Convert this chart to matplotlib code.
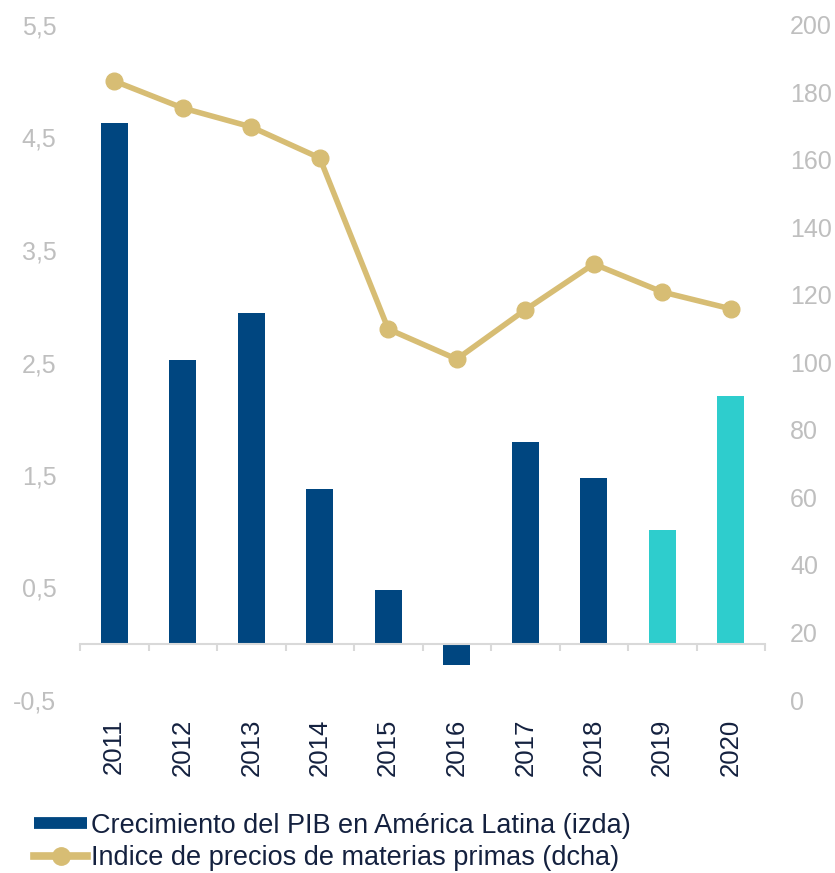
"""GDP growth in Latin America vs. commodity price index, 2011-2020."""
import matplotlib
matplotlib.use("Agg")
import matplotlib.pyplot as plt
from matplotlib.lines import Line2D
from matplotlib.ticker import FuncFormatter

plt.rcParams["font.family"] = ["Liberation Sans", "DejaVu Sans"]

years = ["2011", "2012", "2013", "2014", "2015", "2016", "2017", "2018", "2019", "2020"]
gdp_growth = [4.63, 2.52, 2.94, 1.38, 0.48, -0.19, 1.79, 1.47, 1.01, 2.20]
commodity_idx = [183.4, 175.4, 169.8, 160.6, 109.9, 101.0, 115.6, 129.2, 120.9, 115.9]
forecast = [False] * 8 + [True, True]

NAVY = "#004680"
CYAN = "#2ECDCD"
TAN = "#D7BD74"
GREY = "#BFBFBF"
AXIS = "#D9D9D9"
TEXT = "#14213F"

fig = plt.figure(figsize=(8.35, 8.73), dpi=100)
ax = fig.add_axes([80 / 835, 1 - 700 / 873, 685 / 835, 675 / 873])
ax2 = ax.twinx()

x = list(range(len(years)))
colors = [CYAN if f else NAVY for f in forecast]
ax.bar(x, gdp_growth, width=0.4, color=colors, zorder=2)
ax2.plot(x, commodity_idx, color=TAN, lw=4, marker="o", ms=12, zorder=3)

ax.set_xlim(-0.5, len(years) - 0.5)
ax.set_ylim(-0.5, 5.5)
ax.set_yticks([-0.5, 0.5, 1.5, 2.5, 3.5, 4.5, 5.5])
ax.yaxis.set_major_formatter(FuncFormatter(lambda v, _: f"{v:.1f}".replace(".", ",")))
ax2.set_ylim(0, 200)
ax2.set_yticks(range(0, 201, 20))

for a in (ax, ax2):
    for s in a.spines.values():
        s.set_visible(False)
ax.spines["bottom"].set_visible(True)
ax.spines["bottom"].set_position(("data", 0))
ax.spines["bottom"].set_color(AXIS)
ax.spines["bottom"].set_linewidth(1.5)

ax.set_xticks(x)
ax.set_xticklabels(years, rotation=90, fontsize=18.5, color=TEXT)
ax.set_xticks([i - 0.5 for i in range(len(years) + 1)], minor=True)
ax.tick_params(axis="x", which="major", length=0, pad=54)
ax.tick_params(axis="x", which="minor", length=5, width=1.5, color=AXIS)
ax.tick_params(axis="y", length=0, labelsize=18, labelcolor=GREY, pad=17)
ax2.tick_params(axis="y", length=0, labelsize=18, labelcolor=GREY, pad=18)

handles = [
    Line2D([], [], color=NAVY, lw=8.5, solid_capstyle="butt"),
    Line2D([], [], color=TAN, lw=5.5, marker="o", ms=12.5),
]
labels = ["Crecimiento del PIB en América Latina (izda)",
          "Indice de precios de materias primas (dcha)"]
fig.legend(handles, labels, loc="upper left", bbox_to_anchor=(0.012, 0.097),
           frameon=False, fontsize=19.5, labelcolor=TEXT, handlelength=1.95,
           handletextpad=0.15, labelspacing=0.25, numpoints=1)

fig.savefig("out.png", dpi=100)
